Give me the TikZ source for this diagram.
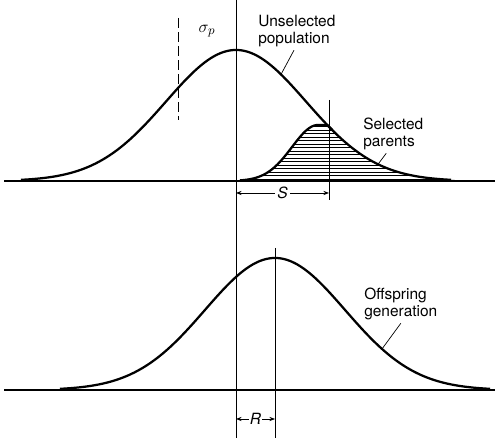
\documentclass[tikz,border=0pt]{standalone}
\usepackage{fontspec}
\setmainfont{TeX Gyre Heros}
\usetikzlibrary{arrows.meta}

\begin{document}
\begin{tikzpicture}[x=0.025cm, y=0.025cm,
    declare function={pop(\x)=131*exp(-0.5*((\x-236)/70)^2);
                      off(\x)=132*exp(-0.5*((\x-275)/70)^2);
                      hump(\x)=56*exp(-0.5*((\x-318)/26)^2);
                      sel(\x)=(\x<318) ? hump(\x) : min(56,pop(\x));},
    curve/.style={line width=1.6pt, line join=round},
    base/.style={line width=0.9pt},
    guide/.style={line width=0.6pt},
    lbl/.style={font=\fontsize{11}{12.5}\selectfont, align=left, inner sep=0pt, anchor=west},
    dim/.style={{Stealth[length=4pt,width=3pt]}-{Stealth[length=4pt,width=3pt]}, line width=0.5pt},
    leader/.style={line width=0.5pt}
  ]
  \useasboundingbox (0,0) rectangle (498,438);

  % baselines
  \draw[base] (4,257) -- (495,257);
  \draw[base] (4,48) -- (495,48);

  % selected parents, hatched
  \begin{scope}
    \clip plot[domain=240:470, samples=150] (\x,{257+sel(\x)}) -- cycle;
    \foreach \h in {2,5.5,...,58}
      \draw[line width=0.45pt] (240,257+\h) -- (470,257+\h);
  \end{scope}
  \draw[curve] plot[domain=240:332, samples=80] (\x,{257+sel(\x)});

  % distributions
  \draw[curve] plot[domain=21:451, samples=200] (\x,{257+pop(\x)});
  \draw[curve] plot[domain=60:490, samples=200] (\x,{48+off(\x)});

  % verticals
  \draw[guide] (236,438) -- (236,0);
  \draw[guide, dash pattern=on 7pt off 3pt] (178,420) -- (178,318);
  \draw[guide] (329,338) -- (329,238);
  \draw[guide] (275,190) -- (275,0);

  % differentials
  \coordinate (s0) at (236,245);
  \coordinate (s1) at (329,245);
  \coordinate (r0) at (236,19);
  \coordinate (r1) at (275,19);
  \draw[dim] (s0) -- (s1) node[midway, fill=white, inner sep=1.5pt, font=\fontsize{11}{12}\selectfont\itshape] {S};
  \draw[dim] (r0) -- (r1) node[midway, fill=white, inner sep=1pt, font=\fontsize{11}{12}\selectfont\itshape] {R};

  % labels
  \node[font=\fontsize{13}{14}\selectfont] (sigma) at (207,407) {$\sigma_p$};
  \node[lbl] (unsel) at (258,407) {Unselected\\population};
  \node[lbl] (sel) at (363,304) {Selected\\parents};
  \node[lbl] (offs) at (364,134) {Offspring\\generation};

  \coordinate (unselPt) at (281,{257+pop(281)});
  \coordinate (selPt) at (378,{257+pop(378)});
  \coordinate (offsPt) at (382,{48+off(382)});
  \draw[leader] ([xshift=-2pt,yshift=-2pt]unsel.south) -- (unselPt);
  \draw[leader] ([xshift=-5pt,yshift=-2pt]sel.south) -- (selPt);
  \draw[leader] ([yshift=-2pt]offs.south) -- (offsPt);
\end{tikzpicture}
\end{document}
